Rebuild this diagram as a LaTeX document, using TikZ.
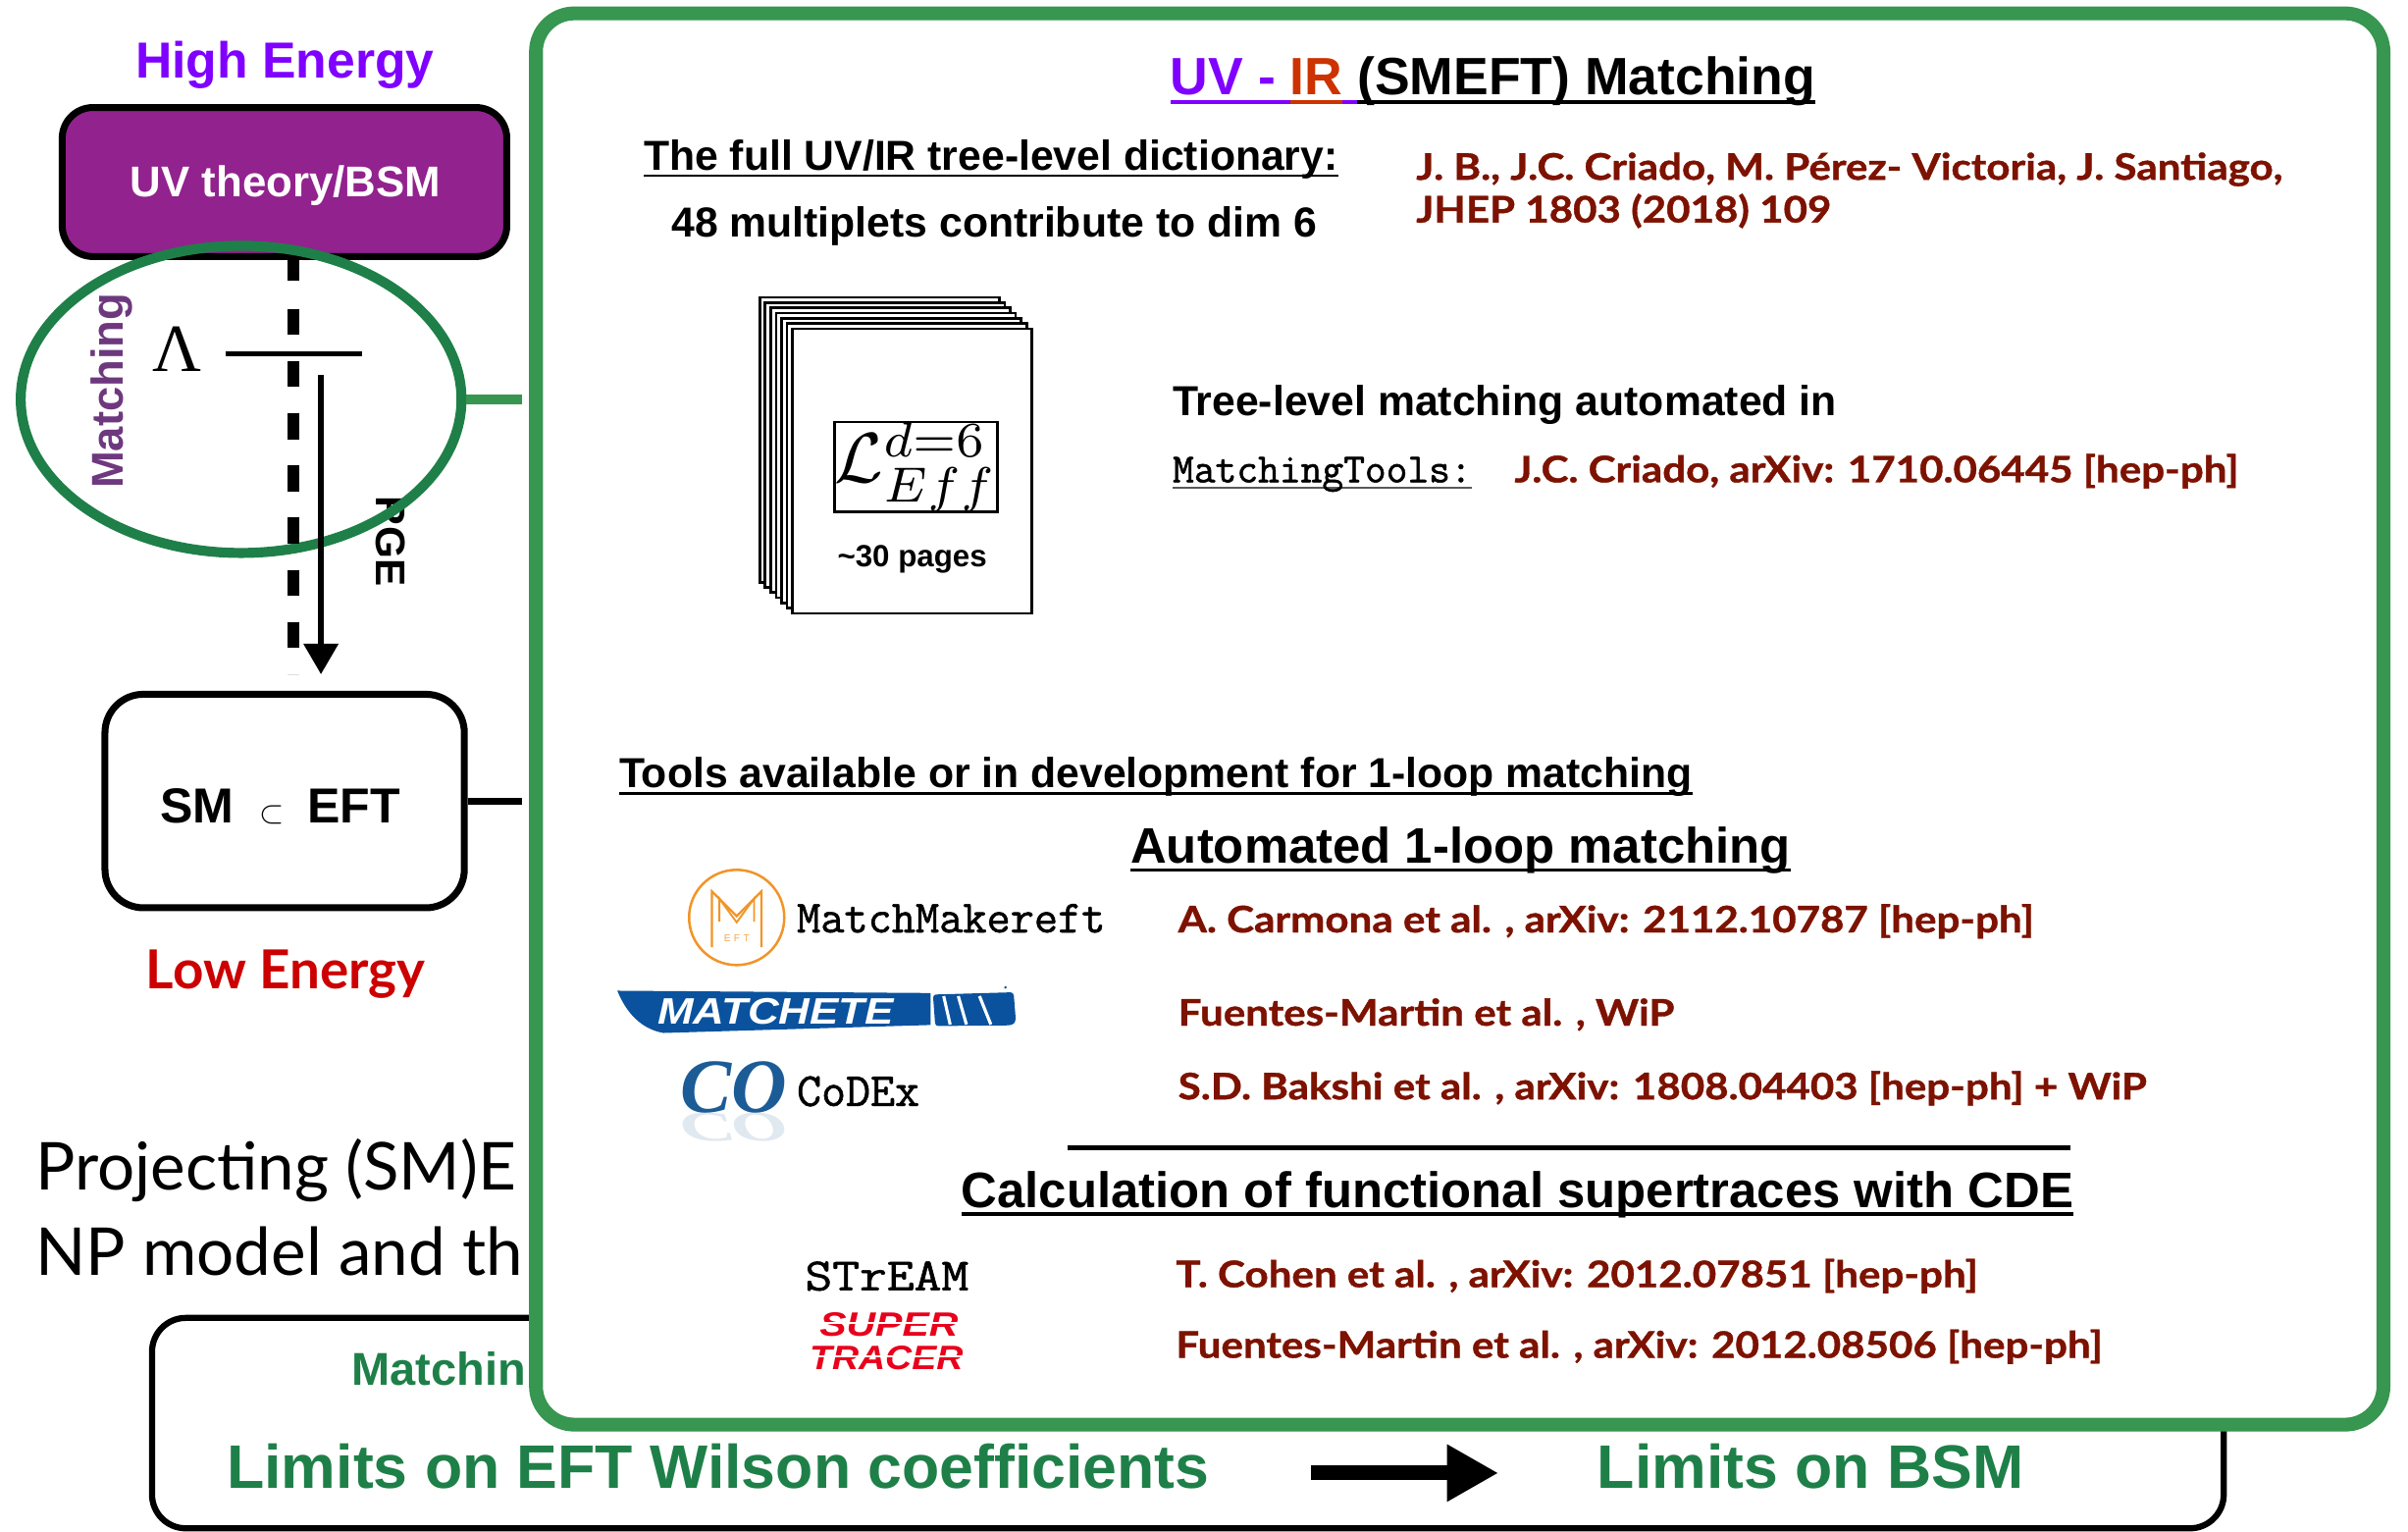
\documentclass[tikz,border=0pt]{standalone}
\usepackage{fontspec}
\usepackage{graphicx}
\setmainfont{Liberation Sans}
\newfontfamily\gill{Lato}
\newfontfamily\gillref[FakeStretch=1.13,FakeBold=1]{Lato}
\newfontfamily\serifrm{Liberation Serif}
\newfontfamily\typew[FakeBold=1.2]{Latin Modern Mono}
\usetikzlibrary{arrows.meta,shapes.geometric}

\definecolor{hiviolet}{RGB}{127,0,255}
\definecolor{uvpurple}{RGB}{146,34,142}
\definecolor{matchpurple}{RGB}{110,56,126}
\definecolor{ellgreen}{RGB}{30,128,72}
\definecolor{boxgreen}{RGB}{55,150,80}
\definecolor{lowred}{RGB}{204,0,0}
\definecolor{irred}{RGB}{204,51,0}
\definecolor{refred}{RGB}{125,18,0}
\definecolor{mmorange}{RGB}{242,148,40}
\definecolor{matblue}{RGB}{10,82,158}
\definecolor{coblue}{RGB}{28,92,150}
\definecolor{stred}{RGB}{232,0,28}

\newcommand{\fsz}[1]{\fontsize{#1}{#1}\selectfont}
% underline drawn as a rule just below the baseline
\newcommand{\undl}[1]{\setbox0=\hbox{#1}\rlap{\vrule height -0.1em depth 0.165em width \wd0}\box0}
\newcommand{\undlc}[2]{\setbox0=\hbox{#2}\rlap{\color{#1}\vrule height -0.1em depth 0.16em width \wd0}\box0}

\tikzset{
  lbl/.style={inner sep=0pt, anchor=base west},
  clbl/.style={inner sep=0pt, anchor=base},
  hv/.style={font=\fsz{#1}\bfseries},
  ref/.style={inner sep=0pt, anchor=base west, text=refred, font=\gillref\fsz{23.8}\bfseries},
  tw/.style={inner sep=0pt, anchor=base west, font=\typew\fsz{#1}},
  pagesheet/.style={draw=black, fill=white, line width=1.7pt},
}

\begin{document}
\begin{tikzpicture}[x=1pt,y=-1pt]
\useasboundingbox (0,0) rectangle (1568,997);

% ---------- text and box partly hidden behind the panel ----------
\node[lbl, font=\gill\fsz{43}] (proj1) at (23,775) {Projecting (SM)E};
\node[lbl, font=\gill\fsz{43}] (proj2) at (23,830) {NP model and th};
\node[draw=black, line width=4pt, rounded corners=22pt, minimum width=1349pt,
      minimum height=137pt, inner sep=0pt] (bot) at (773.5,926.5) {};
\node[lbl, hv=30, text=ellgreen] (botm) at (229,902) {Matchin};
\node[lbl, hv=40, text=ellgreen] (lim1) at (147.6,969) {Limits on EFT Wilson coefficients};
\node[lbl, hv=40, text=ellgreen] (lim2) at (1040,969) {Limits on BSM};
\coordinate (a1) at (853.7,959);
\coordinate (a2) at (975.7,959);
\draw[line width=9.6pt, -{Triangle[length=33.5pt,width=35pt]}] (a1) -- (a2);

% ---------- energy scale column ----------
\node[clbl, hv=33, text=hiviolet] (hi) at (185.5,51) {High Energy};
\node[draw=black, fill=uvpurple, line width=4.5pt, rounded corners=20pt,
      minimum width=289.5pt, minimum height=97pt, inner sep=0pt] (uv) at (185.25,118.5) {};
\node[clbl, hv=28, text=white] (uvt) at (186,128) {UV theory/BSM};

\node[rotate=-90, clbl, hv=27] (rge) at (245,352.5) {RGE};
\node[rotate=90, clbl, hv=29, text=matchpurple] (match) at (80,254.5) {Matching};

\node[ellipse, draw=ellgreen, line width=6.5pt, minimum width=287pt,
      minimum height=200pt, inner sep=0pt] (ell) at (157,260) {};

\coordinate (dtop) at (191,169);
\coordinate (dbot) at (191,439);
\draw[line width=8pt, dash pattern=on 14pt off 18pt on 17pt off 17pt on 17pt off 17pt on 17pt off 17pt on 17pt off 17pt on 17pt off 17pt on 17pt off 17pt on 17pt off 17pt on 17pt off 17pt]
  (dtop) -- (dbot);

\node[lbl, font=\serifrm\fsz{44}] (lam) at (99,242) {Λ};
\draw[line width=3pt] (147,230.5) -- (236,230.5);

\coordinate (rtop) at (209,244);
\coordinate (rbot) at (209,439);
\draw[line width=4pt, -{Triangle[width=22pt,length=20pt]}] (rtop) -- (rbot);

\node[draw=black, line width=4.5pt, rounded corners=25pt, minimum width=234pt,
      minimum height=139pt, inner sep=0pt] (sm) at (185.35,521.5) {};
\node[lbl, hv=32] (smt) at (104,536) {SM\hspace{17pt}{\fsz{20}$\subset$}\hspace{15pt}EFT};

\node[clbl, font=\gill\fsz{35}\bfseries, text=lowred] (low) at (186,644) {Low Energy};

% ---------- matching panel ----------
\node[draw=boxgreen, fill=white, line width=9pt, rounded corners=25pt,
      minimum width=1203pt, minimum height=918.8pt, inner sep=0pt] (big) at (950.5,468.1) {};

\draw[boxgreen, line width=6.5pt, shorten >=4.5pt] (ell.east) -- (ell.east -| big.west);
\draw[black, line width=4.5pt, shorten >=4.5pt] (sm.east) -- (sm.east -| big.west);

\node[lbl, hv=34.2] (title) at (762,61.8)
  {{\color{hiviolet}\undl{UV - }}{\color{irred}\undl{IR}}{\color{hiviolet}\undl{\ }}\undl{(SMEFT) Matching}};

\node[lbl, hv=27.3] (dict) at (419,110.7) {\undl{The full UV/IR tree-level dictionary:}};
\node[lbl, hv=27.3] (mult) at (437,154.4) {48 multiplets contribute to dim 6};
\node[ref] (r1a) at (922,117) {J. B., J.C. Criado, M. Pérez- Victoria, J. Santiago,};
\node[ref] (r1b) at (922,144.8) {JHEP 1803 (2018) 109};

% stack of pages
\foreach \i in {6,5,...,0}{
  \draw[pagesheet] (516-3.55*\i,214-3.4*\i) rectangle (672-3.55*\i,399.4-3.4*\i);
}
\node[draw=black, line width=1.7pt, minimum width=99pt, minimum height=58.5pt,
      inner sep=0pt] (lag) at (596.5,304) {\scalebox{4.6}{$\mathcal{L}^{d=6}_{Eff}$}};
\node[clbl, hv=20] (pages) at (594,369) {\textasciitilde30 pages};

\node[lbl, hv=27.3] (tree) at (763.4,270.5) {Tree-level matching automated in};
\node[tw=27] (mtools) at (763.4,314) {\undlc{black!65}{MatchingTools:}};
\node[ref] (r2) at (986,314) {J.C. Criado, arXiv: 1710.06445 [hep-ph]};

\node[lbl, hv=27.3] (tools) at (403,513) {\undl{Tools available or in development for 1-loop matching}};
\node[lbl, hv=32.5] (auto) at (736,562) {\undl{Automated 1-loop matching}};

% MatchMakereft logo
\node[circle, draw=mmorange, line width=1.6pt, minimum size=62pt, inner sep=0pt] (mmlogo) at (479.7,597.3) {};
\draw[mmorange, line width=1.5pt, line join=miter]
  (463.6,616.6) -- (463.6,580.4) -- (479.7,596.4) -- (495.8,580.4) -- (495.8,616.6);
\draw[mmorange, line width=1.2pt, line join=miter]
  (468.4,600) -- (468.4,585) -- (479.7,600.5) -- (491,585) -- (491,600);
\node[clbl, font=\fsz{6.5}, text=mmorange!80!white] (mmeft) at (479.7,613) {E\,\,F\,\,T};
\node[tw=30] (mm) at (518.7,607) {MatchMakereft};
\node[ref] (r3) at (767,607) {A. Carmona et al. , arXiv: 2112.10787 [hep-ph]};

% Matchete logo
\fill[matblue] (402,645) -- (606,646.5) -- (606,667.3) -- (432,672.5)
  .. controls (418,670) and (408,660) .. cycle;
\fill[matblue, rounded corners=2pt] (607.5,647.5) -- (660,646) -- (661.5,665) -- (659,667.5) -- (609,668) -- cycle;
\fill[matblue] (654.7,642.8) circle (0.9pt);
\draw[white, line width=2pt] (614.5,648.5) -- (618.7,667) (624,648.5) -- (629.3,667) (637.8,648.5) -- (645.2,667);
\node[lbl, text=white] (matchete) at (428,666.5) {\scalebox{1.17}[1]{\fsz{24}\bfseries\itshape MATCHETE}};
\node[ref] (r4) at (767,667.7) {Fuentes-Martin et al. , WiP};

% CoDEx logo
\node[lbl, text=coblue!30!white, opacity=0.45, yscale=-0.55, font=\serifrm\fsz{50}\bfseries\itshape] (colref) at (443,725) {CO};
\node[lbl, text=coblue, font=\serifrm\fsz{50}\bfseries\itshape] (colog) at (443,724) {CO};
\node[tw=31] (codex) at (518.7,720) {CoDEx};
\node[ref] (r5) at (767,715.7) {S.D. Bakshi et al. , arXiv: 1808.04403 [hep-ph] + WiP};

\draw[line width=3.2pt] (695,747.4) -- (1348,747.4);
\node[lbl, hv=32.5] (calc) at (625.8,786) {\undl{Calculation of functional supertraces with CDE}};

\node[lbl] (stream) at (524,840) {\scalebox{1.15}[1]{\typew\fsz{30}STrEAM}};
\node[ref] (r6) at (765.5,838) {T. Cohen et al. , arXiv: 2012.07851 [hep-ph]};

\node[lbl, text=stred] (super) at (533.5,870) {\scalebox{1.19}[1]{\fsz{22}\bfseries\itshape SUPER}};
\node[lbl, text=stred] (tracer) at (527,891.4) {\scalebox{1.09}[1]{\fsz{22}\bfseries\itshape TRACER}};
\draw[white, line width=1.1pt] (530,861.5) -- (628,861.5) (524,883) -- (630,883);
\node[ref] (r7) at (765.5,884) {Fuentes-Martin et al. , arXiv: 2012.08506 [hep-ph]};

\end{tikzpicture}
\end{document}
